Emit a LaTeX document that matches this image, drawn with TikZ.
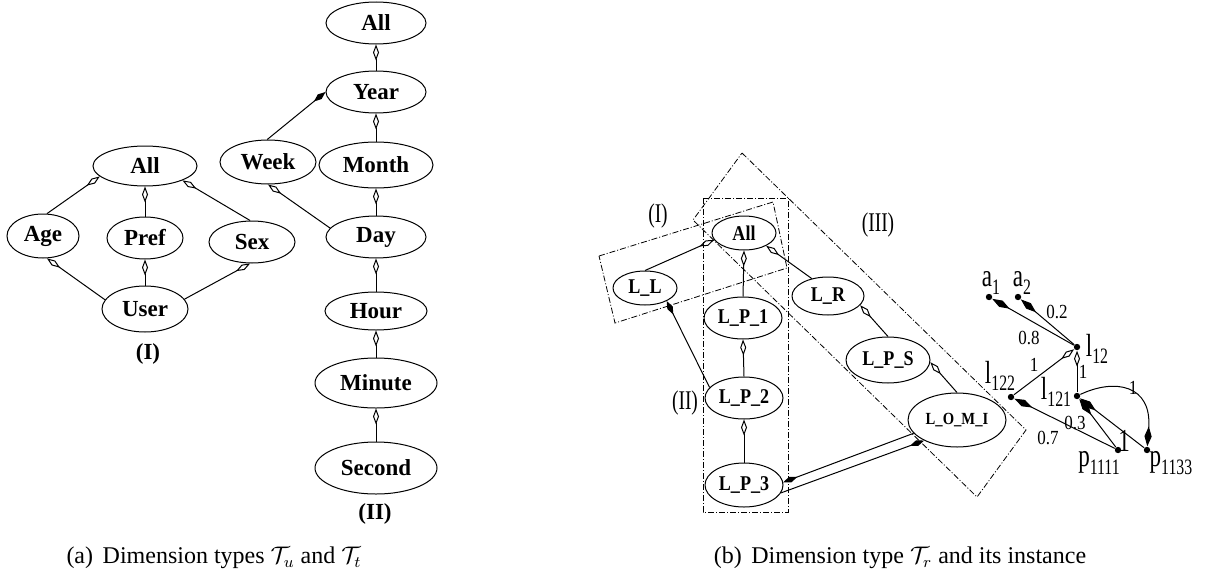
\documentclass[tikz,border=0pt]{standalone}
\usepackage{fontspec}
\setmainfont{Liberation Serif}
\newfontfamily\nodefont[FakeStretch=0.86]{Liberation Serif}
\newfontfamily\instfont[FakeStretch=0.72]{Liberation Serif}
\newfontfamily\wtfont[FakeStretch=0.85]{Liberation Serif}
\usetikzlibrary{shapes.geometric,arrows.meta}

% lowered index for instance names
\newcommand\idx[1]{\raisebox{-3.6pt}{\fontsize{11}{11}\selectfont #1}}

\tikzset{
  tnode/.style={ellipse,draw,inner sep=0pt,font=\fontsize{11.5}{12}\selectfont\bfseries},
  rnode/.style={ellipse,draw,inner sep=0pt,font=\nodefont\fontsize{10.5}{11}\selectfont\bfseries},
  odia/.style={-{Diamond[open,length=8pt,width=3pt]}},
  fdia/.style={-{Diamond[length=7.5pt,width=3pt]}},
  sdia/.style={{Diamond[length=10pt,width=3.6pt]}-},
  edia/.style={-{Diamond[length=10pt,width=3.6pt]}},
  idot/.style={circle,fill,inner sep=0pt,minimum size=3.2pt},
  grp/.style={line width=0.4pt,dash pattern=on 3pt off 1pt on 0.5pt off 1pt},
  grplab/.style={font=\instfont\fontsize{13.5}{13.5}\selectfont,inner sep=0pt},
  ilab/.style={font=\instfont\fontsize{16}{16}\selectfont,inner sep=0pt},
  wt/.style={font=\wtfont\fontsize{10}{10}\selectfont,inner sep=0pt},
  capt/.style={font=\fontsize{12}{14}\selectfont,inner sep=0pt},
}

\begin{document}
\begin{tikzpicture}[x=0.5pt,y=-0.5pt,line width=0.5pt]
\useasboundingbox (0,0) rectangle (1209,578);

% ---------- user dimension type ----------
\node[tnode,minimum width=52pt,minimum height=20pt] (uAll) at (145,166) {All};
\node[tnode,minimum width=36pt,minimum height=22pt] (Age)  at (43,236)  {Age};
\node[tnode,minimum width=38pt,minimum height=21pt] (Pref) at (145,238) {Pref};
\node[tnode,minimum width=43pt,minimum height=21pt] (Sex)  at (252,242) {Sex};
\node[tnode,minimum width=43pt,minimum height=23pt] (User) at (145,309) {User};
\node[font=\fontsize{11.5}{12}\selectfont\bfseries,inner sep=0pt] (labI) at (148,354) {(I)};

\draw[odia] (Age.80) -- (uAll.193);
\draw[odia] (Pref.north) -- (uAll.south);
\draw[odia] (Sex.95) -- (uAll.339);
\draw[odia] (User.167) -- (Age.280);
\draw[odia] (User.north) -- (Pref.south);
\draw[odia] (User.14) -- (Sex.265);

% ---------- time dimension type ----------
\node[tnode,minimum width=50pt,minimum height=21pt] (tAll)   at (376,23)  {All};
\node[tnode,minimum width=50pt,minimum height=21pt] (Year)   at (376,92)  {Year};
\node[tnode,minimum width=48pt,minimum height=22pt] (Week)   at (268,162) {Week};
\node[tnode,minimum width=57pt,minimum height=23pt] (Month)  at (376,165) {Month};
\node[tnode,minimum width=50pt,minimum height=21pt] (Day)    at (376,237) {Day};
\node[tnode,minimum width=51pt,minimum height=19pt] (Hour)   at (376,311) {Hour};
\node[tnode,minimum width=61pt,minimum height=25pt] (Minute) at (376,383) {Minute};
\node[tnode,minimum width=61pt,minimum height=26pt] (Second) at (376,468) {Second};
\node[font=\fontsize{11.5}{12}\selectfont\bfseries,inner sep=0pt] (labII) at (375,514) {(II)};

\draw[odia] (Year.north) -- (tAll.south);
\draw[odia] (Month.north) -- (Year.south);
\draw[odia] (Day.north) -- (Month.south);
\draw[odia] (Hour.north) -- (Day.south);
\draw[odia] (Minute.north) -- (Hour.south);
\draw[odia] (Second.north) -- (Minute.south);
\draw[fdia] (Week.92) -- (Year.180);
\draw[odia] (Day.169) -- (Week.270);

% ---------- region dimension type ----------
\node[rnode,minimum width=32pt,minimum height=17pt] (rAll) at (744,233) {All};
\node[rnode,minimum width=32pt,minimum height=17pt] (LL)   at (645,288) {L\_L};
\node[rnode,minimum width=39pt,minimum height=21pt] (LP1)  at (743,318) {L\_P\_1};
\node[rnode,minimum width=36pt,minimum height=19pt] (LR)   at (828,296) {L\_R};
\node[rnode,minimum width=39pt,minimum height=21pt] (LP2)  at (744,398) {L\_P\_2};
\node[rnode,minimum width=39pt,minimum height=22pt] (LP3)  at (744,485) {L\_P\_3};
\node[rnode,minimum width=42pt,minimum height=23pt] (LPS)  at (888,360) {L\_P\_S};
\node[rnode,minimum width=49pt,minimum height=27pt,font=\nodefont\fontsize{8.5}{9}\selectfont\bfseries] (LOMI) at (957,420) {L\_O\_M\_I};

\draw[odia] (LL.90) -- (rAll.193);
\draw[odia] (LP1.north) -- (rAll.south);
\draw[odia] (LR.133) -- (rAll.330);
\draw[odia] (LP2.north) -- (LP1.south);
\draw[odia] (LP3.north) -- (LP2.south);
\draw[fdia] (LP2.163) -- (LL.329);
\draw[odia] (LPS.90) -- (LR.344);
\draw[odia] (LOMI.90) -- (LPS.357);
\draw[fdia] (LOMI.197) -- (LP3.4);
\draw[fdia] (LP3.-12) -- (LOMI.212);

% groups of levels
\draw[grp] (599,256) -- (773,202) -- (787,268) -- (615,323) -- cycle;
\draw[grp] (703,198) rectangle (788,512);
\draw[grp] (742,153) -- (1026,430) -- (977,497) -- (693,220) -- cycle;
\node[grplab] (gI)   at (658,216) {(I)};
\node[grplab] (gII)  at (685,403) {(II)};
\node[grplab] (gIII) at (878,225) {(III)};

% ---------- instance ----------
\node[idot] (a1)    at (989,297)  {};
\node[idot] (a2)    at (1018,297) {};
\node[idot] (l12)   at (1077,347) {};
\node[idot] (l122)  at (1011,397) {};
\node[idot] (l121)  at (1077,396) {};
\node[idot] (p1111) at (1118,450) {};
\node[idot] (p1133) at (1147,450) {};

\node[ilab] (ta1)    at (991,283)  {a\idx{1}};
\node[ilab] (ta2)    at (1022,283) {a\idx{2}};
\node[ilab] (tl12)   at (1097,349) {l\idx{12}};
\node[ilab] (tl122)  at (1000,376) {l\idx{122}};
\node[ilab] (tl121)  at (1056,392) {l\idx{121}};
\node[ilab] (tp1111) at (1099,463) {p\idx{1111}};
\node[ilab] (tp1133) at (1171,463) {p\idx{1133}};

\draw[sdia] (a1) -- (l12);
\draw[sdia] (a2) -- (l12);
\draw[odia] (l122) -- (l12);
\draw[odia] (l121) -- (l12);
\draw[sdia] (l122) -- (p1111);
\draw[sdia] (l121) -- (p1111);
\draw[sdia] (l121) -- (p1133);
\draw[edia] (l121) .. controls (1115,378) and (1152,385) .. (p1133);

\node[wt] (w1) at (1029,338) {0.8};
\node[wt] (w2) at (1057,312) {0.2};
\node[wt] (w3) at (1034,365) {1};
\node[wt] (w4) at (1083,372) {1};
\node[wt] (w5) at (1133,388) {1};
\node[wt] (w6) at (1075,423) {0.3};
\node[wt] (w7) at (1048,438) {0.7};
\node[ilab] (w8) at (1124,441) {1};

% ---------- captions ----------
\node[capt] (ca) at (214,558) {(a)\hspace{0.4em}Dimension types $\mathcal{T}_u$ and $\mathcal{T}_t$};
\node[capt] (cb) at (900,558) {(b)\hspace{0.4em}Dimension type $\mathcal{T}_r$ and its instance};
\end{tikzpicture}
\end{document}
